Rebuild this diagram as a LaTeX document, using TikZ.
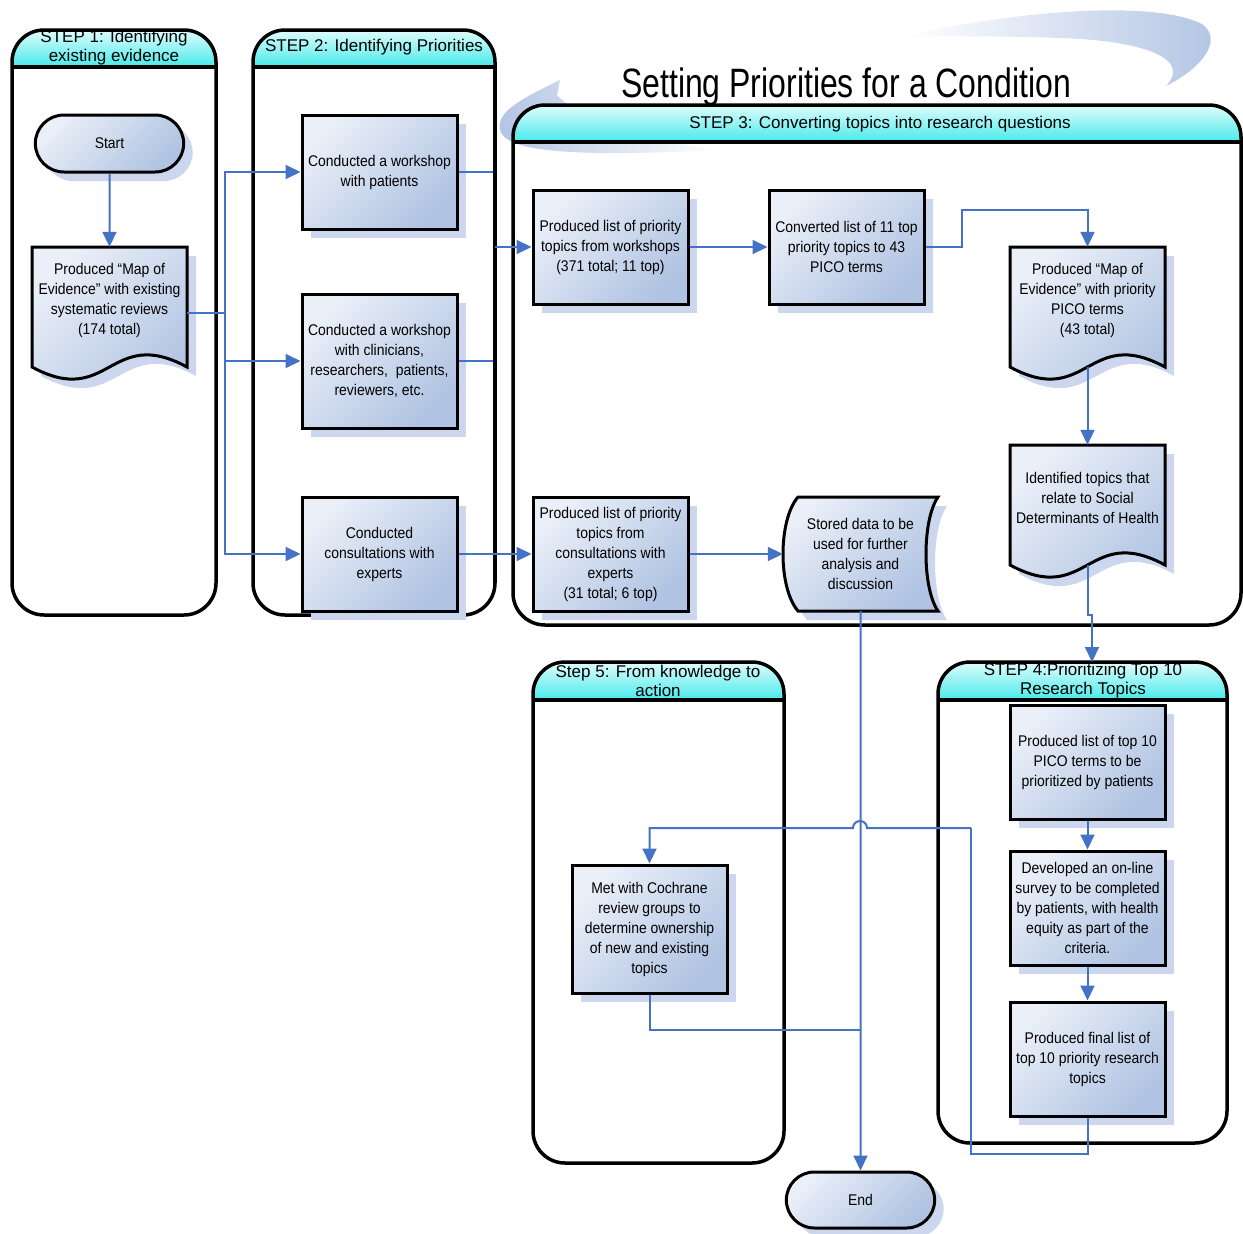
\documentclass[tikz,border=0pt]{standalone}
\usepackage{fontspec}
\setmainfont{Liberation Sans}[FakeStretch=0.9]
\newfontfamily\headfont{Liberation Sans}
\newfontfamily\titlefont{Liberation Sans}[FakeStretch=0.78]
\usetikzlibrary{arrows.meta,shapes.misc,shadows}
\definecolor{boxlight}{RGB}{234,239,248}
\definecolor{boxdark}{RGB}{176,195,226}
\definecolor{flow}{RGB}{68,114,196}
\definecolor{headtop}{RGB}{225,252,252}
\definecolor{headbot}{RGB}{70,234,234}
\definecolor{shadowblue}{RGB}{204,214,238}
\definecolor{swoosh}{RGB}{178,196,228}
\newcommand{\boxfont}{\fontsize{15.5}{20}\selectfont}
\newcommand{\steplane}[5]{%
  \begin{scope}
    \clip[rounded corners=32pt] (#1,#2) rectangle (#3,#4);
    \shade[top color=headtop,bottom color=headbot] (#1,#2) rectangle (#3,#5);
  \end{scope}
  \draw[lanebox] (#1,#2) rectangle (#3,#4);
  \draw[line width=3.5pt] (#1,#5) -- (#3,#5);}
\newcommand{\docnode}[4]{%
  \path[docshape] ({#2-77.5},#3) -- ({#2+77.5},#3) -- ({#2+77.5},{#3+120})
    .. controls (#2,{#3+78}) and (#2,{#3+162}) .. ({#2-77.5},{#3+120}) -- cycle;
  \node[doctext] (#1) at (#2,{#3+53}) {#4};
  \coordinate (#1b) at (#2,{#3+120});}
\begin{document}
\begin{tikzpicture}[x=1pt,y=-1pt,
  lanebox/.style={draw,line width=3.5pt,rounded corners=32pt},
  boxshadow/.style={drop shadow={shadow xshift=9pt,shadow yshift=-9pt,fill=shadowblue,opacity=1}},
  boxfill/.style={top color=boxlight,bottom color=boxdark,shading angle=45},
  procbox/.style={draw,line width=3pt,minimum width=155pt,minimum height=114pt,inner sep=1pt,
    align=center,boxfill,boxshadow,font=\boxfont},
  termbox/.style={rounded rectangle,draw,line width=3pt,minimum width=155pt,minimum height=57pt,
    boxfill,boxshadow,font=\boxfont},
  docshape/.style={draw,line width=3pt,boxfill,boxshadow},
  doctext/.style={minimum width=155pt,minimum height=106pt,inner sep=0pt,align=center,font=\boxfont},
  headtext/.style={align=center,font=\headfont\fontsize{17}{19}\selectfont},
  flowline/.style={draw=flow,line width=2pt},
  flowarrow/.style={flowline,-{Triangle[length=15pt,width=14pt]}}]
\useasboundingbox (0,0) rectangle (1243,1234);

% title swooshes
\shade[left color=white,right color=swoosh] (903,37) .. controls (1000,13) and (1150,-2) .. (1202,24)
  .. controls (1224,40) and (1202,68) .. (1166,86) .. controls (1195,55) and (1130,40) .. (1060,38)
  .. controls (1000,36) and (950,36) .. (903,37) -- cycle;
\shade[left color=swoosh,right color=white] (560,80) .. controls (530,95) and (495,110) .. (500,130)
  .. controls (505,150) and (560,158) .. (720,150) .. controls (640,140) and (580,120) .. (557,95) -- cycle;
\node[font=\titlefont\fontsize{41}{48}\selectfont,anchor=base] (20) at (846,97) {Setting Priorities for a Condition};

\steplane{12}{30}{216}{615}{67}
\steplane{253}{30}{495}{615}{67}
\steplane{513}{105}{1241}{625}{142}
\steplane{938}{662}{1227}{1143}{700}
\steplane{533}{662}{784}{1163}{700}
\node[headtext] (21) at (114,48) {STEP 1: Identifying\\existing evidence};
\node[headtext] (22) at (374,47) {STEP 2: Identifying Priorities};
\node[headtext] (23) at (880,124) {STEP 3: Converting topics into research questions};
\node[headtext] (24) at (1083,681) {STEP 4:Prioritizing Top 10\\Research Topics};
\node[headtext] (25) at (658,681) {Step 5: From knowledge to\\action};

\node[termbox] (0) at (109.5,143.5) {Start};
\docnode{1}{109.5}{247}{Produced “Map of\\Evidence” with existing\\systematic reviews\\(174 total)}
\node[procbox] (2) at (379.5,172) {Conducted a workshop\\with patients};
\node[procbox,minimum height=134pt] (3) at (379.5,361) {Conducted a workshop\\with clinicians,\\researchers,\ \ patients,\\reviewers, etc.};
\node[procbox] (4) at (379.5,554) {Conducted\\consultations with\\experts};
\node[procbox] (5) at (610.5,247) {Produced list of priority\\topics from workshops\\(371 total; 11 top)};
\node[procbox] (6) at (846.5,247) {Converted list of 11 top\\priority topics to 43\\PICO terms};
\docnode{7}{1087.5}{247}{Produced “Map of\\Evidence” with priority\\PICO terms\\(43 total)}
\docnode{8}{1087.5}{445}{Identified topics that\\relate to Social\\Determinants of Health}
\node[procbox] (9) at (610.5,554) {Produced list of priority\\topics from\\consultations with\\experts\\(31 total; 6 top)};
\path[docshape] (798,497) -- (938,497) .. controls (922,520) and (922,588) .. (938,611)
  -- (798,611) .. controls (778,588) and (778,520) .. (798,497) -- cycle;
\node[doctext,minimum height=114pt] (10) at (860.5,554) {Stored data to be\\used for further\\analysis and\\discussion};
\node[procbox] (11) at (1087.5,762) {Produced list of top 10\\PICO terms to be\\prioritized by patients};
\node[procbox] (12) at (1087.5,908) {Developed an on-line\\survey to be completed\\by patients, with health\\equity as part of the\\criteria.};
\node[procbox] (13) at (1087.5,1059) {Produced final list of\\top 10 priority research\\topics};
\node[procbox,minimum height=128pt] (14) at (649.5,929) {Met with Cochrane\\review groups to\\determine ownership\\of new and existing\\topics};
\node[termbox,minimum height=56pt] (15) at (860.5,1200) {End};

\coordinate (j1) at (225,313);
\coordinate (j2) at (495,247);
\coordinate (j3) at (962,210);
\coordinate (j4) at (971,828);
\coordinate (j5) at (860.5,1030);
\coordinate (s4) at (1092,662);

\draw[flowarrow] (0) -- (1);
\draw[flowline] ([yshift=-13pt]1.east) -- (j1);
\draw[flowarrow] (j1) |- (2);
\draw[flowarrow] (j1) |- (3);
\draw[flowarrow] (j1) |- (4);
\draw[flowline] (2) -| (j2);
\draw[flowline] (3) -| (j2);
\draw[line width=3.5pt] (495,67) -- (495,583);
\draw[flowarrow] (j2) -- (5);
\draw[flowarrow] (4) -- (9);
\draw[flowarrow] (5) -- (6);
\draw[flowarrow] (6) -| (j3) -| (7);
\draw[flowarrow] (7b) -- (8);
\draw[flowarrow] (8b) -- ++(0,50) -| (s4);
\draw[flowarrow] (9) -- (10);
\draw[flowarrow] (10) -- (15);
\draw[flowarrow] (11) -- (12);
\draw[flowarrow] (12) -- (13);
\draw[flowline] (13.south) -- ++(0,36) -| (j4);
\draw[flowarrow] (j4) -- ++(-104,0) arc[start angle=0,end angle=-180,radius=7] -| (14);
\draw[flowline] (14) |- (j5);
\end{tikzpicture}
\end{document}
